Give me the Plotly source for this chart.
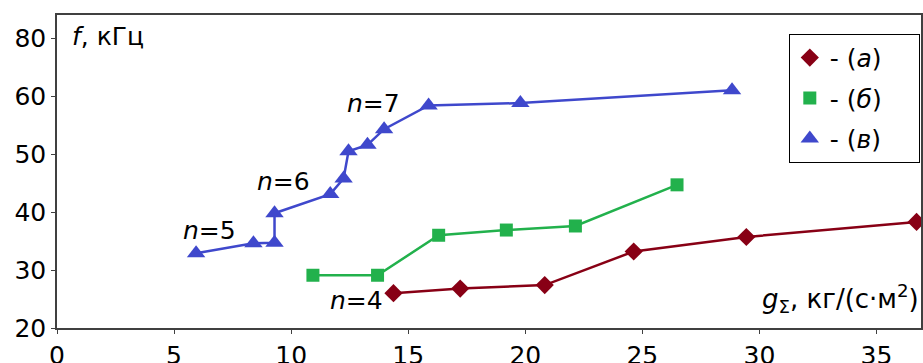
import plotly.graph_objects as go

# Series (а) — dark red diamonds
xa = [14.37, 17.22, 20.83, 24.63, 29.44, 36.71]
ya = [26.0, 26.8, 27.4, 33.2, 35.7, 38.3]
# Series (б) — green squares
xb = [10.93, 13.69, 16.30, 19.19, 22.14, 26.48]
yb = [29.1, 29.1, 36.0, 36.9, 37.6, 44.7]
# Series (в) — blue triangles
xv = [5.94, 8.39, 9.29, 9.29, 11.67, 12.24, 12.45, 13.26, 13.97, 15.87, 19.79, 28.83]
yv = [32.9, 34.6, 34.7, 39.8, 43.1, 45.8, 50.5, 51.6, 54.3, 58.4, 58.8, 61.0]

x_ticks = [0, 5, 10, 15, 20, 25, 30, 35]
y_tickvals = [20, 30, 40, 50, 60, 70]
y_ticktext = ["20", "30", "40", "50", "60", "80"]

names = ["- (<i>а</i>)&nbsp;&nbsp;&nbsp;&nbsp;", "- (<i>б</i>)&nbsp;&nbsp;&nbsp;&nbsp;",
         "- (<i>в</i>)&nbsp;&nbsp;&nbsp;&nbsp;"]
colors = ["#880015", "#22B14C", "#3F48CC"]
symbols = ["diamond", "square", "triangle-up"]
msizes = [14, 13, 16]

FONT = "DejaVu Sans, Verdana, sans-serif"

fig = go.Figure()
for xs, ys, c, s, ms in [(xa, ya, colors[0], symbols[0], msizes[0]),
                         (xb, yb, colors[1], symbols[1], msizes[1]),
                         (xv, yv, colors[2], symbols[2], msizes[2])]:
    fig.add_trace(go.Scatter(x=xs, y=ys, mode="lines+markers",
                             line=dict(color=c, width=2.5),
                             marker=dict(color=c, symbol=s, size=ms),
                             showlegend=False, cliponaxis=False))
for i, (n, c, s, ms) in enumerate(zip(names, colors, symbols, msizes)):
    fig.add_trace(go.Scatter(x=[None], y=[None], mode="markers", name=n,
                             legendgroup=f"g{i}",
                             marker=dict(color=c, symbol=s, size=ms)))

ann_font = dict(family=FONT, size=25, color="black")
labels = [("<i>n</i>=5", 6.5, 36.9), ("<i>n</i>=6", 9.66, 45.2),
          ("<i>n</i>=7", 13.5, 58.8), ("<i>n</i>=4", 12.8, 24.8)]
for t, x, y in labels:
    fig.add_annotation(x=x, y=y, text=t, showarrow=False, font=ann_font)

fig.add_annotation(xref="paper", yref="paper", x=0.015, y=0.93, text="<i>f</i>, кГц",
                   showarrow=False, xanchor="left", yanchor="middle",
                   font=dict(family=FONT, size=25, color="black"))
fig.add_annotation(xref="paper", yref="paper", x=1.0, y=0.095,
                   text="<i>g</i><sub>Σ</sub>, кг/(с·м<sup>2</sup>)",
                   showarrow=False, xanchor="right", yanchor="middle",
                   font=dict(family=FONT, size=26, color="black"))

axis_common = dict(showgrid=False, zeroline=False, showline=True, mirror=True,
                   linecolor="#404040", linewidth=1.5, ticks="outside",
                   ticklen=4, tickcolor="#404040", automargin=False,
                   tickfont=dict(family=FONT, size=25, color="black"))

fig.update_layout(
    width=923, height=363,
    margin=dict(l=57, r=2, t=15, b=35),
    plot_bgcolor="white", paper_bgcolor="white",
    xaxis=dict(range=[0, 36.9], tickvals=x_ticks, **axis_common),
    yaxis=dict(range=[20, 74], tickvals=y_tickvals, ticktext=y_ticktext, **axis_common),
    legend=dict(x=0.847, y=0.94, xanchor="left", yanchor="top",
                bordercolor="black", borderwidth=1, bgcolor="white",
                font=dict(family=FONT, size=25, color="black"),
                traceorder="grouped", tracegroupgap=5),
)

fig.write_html("out.html", config={"displayModeBar": False},
               post_script="document.body.style.margin='0';document.body.style.overflow='hidden';")
